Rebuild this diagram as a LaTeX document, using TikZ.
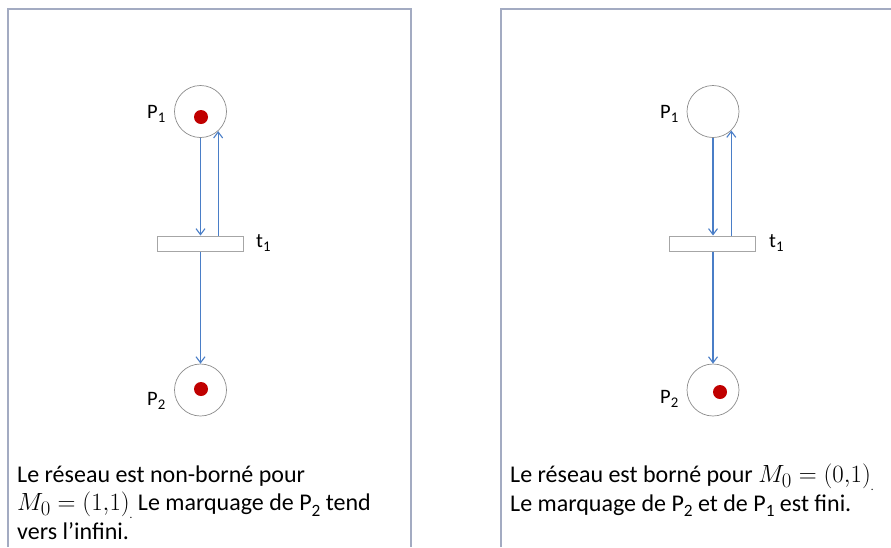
\documentclass[tikz,border=0pt]{standalone}
\usepackage{fontspec}
\setmainfont{Carlito}
\usetikzlibrary{arrows.meta}
\definecolor{framecol}{HTML}{A3ABC2}
\definecolor{arccol}{HTML}{4A7EC7}
\definecolor{tokcol}{HTML}{C00000}
\newcommand\lowsub[1]{\raisebox{-0.5ex}{\fontsize{0.72em}{0.72em}\selectfont #1}}
\newcommand\lowdot{\raisebox{-0.7ex}{\fontsize{11}{11}\selectfont .}}
\newcommand\bigmath[1]{{\fontsize{28.5}{28.5}\selectfont$#1$}}
\begin{document}
\begin{tikzpicture}[x=1pt,y=-1pt,
 place/.style={circle,draw=gray!90,line width=0.7pt,minimum size=52pt,inner sep=0pt},
 token/.style={circle,fill=tokcol,minimum size=14pt,inner sep=0pt},
 trans/.style={rectangle,draw=gray!70,line width=1pt,fill=white,minimum width=86pt,minimum height=15pt,inner sep=0pt},
 arc/.style={draw=arccol,line width=1.1pt,-{Straight Barb[length=6pt,width=9pt]}},
 lbl/.style={font=\fontsize{20.5}{22}\selectfont,inner sep=0pt,anchor=base west},
 txt/.style={font=\fontsize{24}{28.5}\selectfont,align=left,inner sep=0pt,anchor=base west},
 panel/.style={draw=framecol,line width=1.2pt}]
\useasboundingbox (0,0) rectangle (891,547);
% frames
\draw[panel] (8,547) -- (8,9) -- (411,9) -- (411,547);
\draw[panel] (501,547) -- (501,9) -- (891,9);
% left net
\node[place] (p1L) at (200.5,111.5) {};
\node[token] (k1L) at (201,117) {};
\node[trans] (tL) at (200,243.5) {};
\node[place] (p2L) at (200.5,390) {};
\node[token] (k2L) at (201,389) {};
\node[lbl] (lp1L) at (147,118) {P\lowsub{1}};
\node[lbl] (lp2L) at (147,405) {P\lowsub{2}};
\node[lbl] (ltL) at (256,247) {t\lowsub{1}};
\draw[arc] (p1L) -- (tL.north -| p1L);
\draw[arc] (tL.north -| p1L.-48) -- (p1L.-48);
\draw[arc] (tL.south -| p2L) -- (p2L);
% right net
\node[place] (p1R) at (713,111.5) {};
\node[trans] (tR) at (712.5,243.5) {};
\node[place] (p2R) at (713,390) {};
\node[token] (k2R) at (720,392) {};
\node[lbl] (lp1R) at (660,118) {P\lowsub{1}};
\node[lbl] (lp2R) at (660,403) {P\lowsub{2}};
\node[lbl] (ltR) at (769,247) {t\lowsub{1}};
\draw[arc] (p1R) -- (tR.north -| p1R);
\draw[arc] (tR.north -| p1R.-46) -- (p1R.-46);
\draw[arc] (tR.south -| p2R) -- (p2R);
% texts
\node[txt] (txtL) at (17,539) {Le réseau est non-borné pour\\ \bigmath{M_0=(1{,}1)}\lowdot{} Le marquage de P\lowsub{2} tend\\ vers l’infini.};
\node[txt] (txtR) at (510,511) {Le réseau est borné pour \bigmath{M_0=(0{,}1)}\lowdot\\ Le marquage de P\lowsub{2} et de P\lowsub{1} est fini.};
\end{tikzpicture}
\end{document}
